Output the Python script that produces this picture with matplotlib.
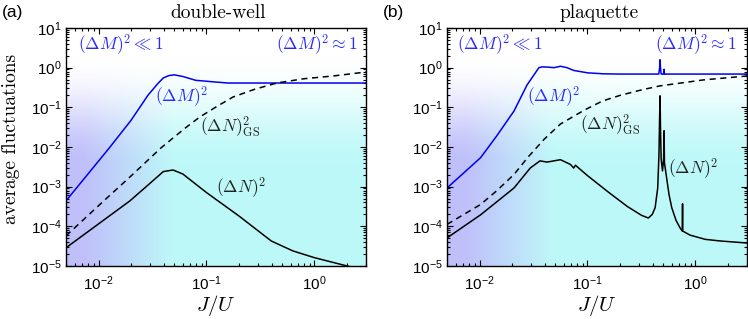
import numpy as np
import matplotlib
matplotlib.use("Agg")
import matplotlib.pyplot as plt
from matplotlib.ticker import LogLocator

plt.rcParams['font.family'] = ['Liberation Sans', 'DejaVu Sans']
plt.rcParams['mathtext.fontset'] = 'cm'

# ---------------- data ----------------
# (a) double-well
dw_M_J = [0.005, 0.01, 0.0126, 0.02, 0.0288, 0.0355, 0.0398, 0.0447, 0.0501, 0.0603, 0.0794, 0.115, 0.158, 1.0, 3.0]
dw_M_y = [4.4e-4, 4.4e-3, 9.5e-3, 0.047, 0.204, 0.40, 0.55, 0.63, 0.66, 0.60, 0.48, 0.44, 0.41, 0.41, 0.41]

dw_NGS_J = [0.005, 0.01, 0.02, 0.038, 0.063, 0.087, 0.126, 0.176, 0.282, 0.451, 0.794, 1.486, 3.0]
dw_NGS_y = [5.75e-5, 3.31e-4, 1.86e-3, 9.55e-3, 0.0295, 0.0575, 0.107, 0.182, 0.288, 0.412, 0.525, 0.617, 0.776]

dw_N_J = [0.005, 0.01, 0.0195, 0.0282, 0.0398, 0.049, 0.0603, 0.1, 0.2, 0.398, 0.631, 1.0, 1.82, 3.0]
dw_N_y = [2.88e-5, 1.15e-4, 4.37e-4, 1.05e-3, 2.4e-3, 2.63e-3, 2.09e-3, 7.1e-4, 1.82e-4, 4.27e-5, 2.4e-5, 1.62e-5, 1.07e-5, 7.6e-6]

# (b) plaquette
pl_M_J = [0.00501, 0.01023, 0.01445, 0.0209, 0.0275, 0.0316, 0.0355, 0.038, 0.0423, 0.049, 0.0562, 0.0646,
          0.0746, 0.1, 0.141, 0.2, 0.457, 0.466, 0.470, 0.474, 0.481, 0.507, 0.512, 0.516, 3.0]
pl_M_y = [9.3e-4, 5.37e-3, 0.0191, 0.0813, 0.363, 0.631, 1.0, 1.047, 1.035, 1.0, 1.084, 1.0,
          0.851, 0.741, 0.70, 0.69, 0.69, 1.0, 1.58, 1.0, 0.69, 0.69, 0.91, 0.69, 0.69]

pl_NGS_J = [0.005, 0.01023, 0.01445, 0.0209, 0.0282, 0.0398, 0.0562, 0.0933, 0.138, 0.2, 0.316, 0.468, 1.175, 3.0]
pl_NGS_y = [1.12e-4, 3.55e-4, 7.9e-4, 2.04e-3, 5.6e-3, 0.0158, 0.038, 0.085, 0.145, 0.2, 0.275, 0.347, 0.49, 0.617]

pl_N_J = [0.005, 0.01023, 0.0209, 0.0295, 0.0363, 0.0423, 0.0562, 0.0695, 0.0746, 0.0773, 0.1, 0.158, 0.234,
          0.316, 0.366, 0.398, 0.423, 0.447, 0.459, 0.466, 0.470, 0.474, 0.481, 0.495, 0.507, 0.512, 0.516,
          0.542, 0.569, 0.603, 0.661, 0.724, 0.755, 0.759, 0.762, 0.891, 1.23, 1.70, 3.0]
pl_N_y = [5.1e-5, 1.95e-4, 9.3e-4, 2.95e-3, 4.47e-3, 4.17e-3, 4.79e-3, 3.63e-3, 2.95e-3, 3.47e-3, 1.9e-3, 7.1e-4, 3.16e-4,
          1.9e-4, 1.62e-4, 2.0e-4, 2.95e-4, 9.3e-4, 6.5e-3, 0.066, 0.195, 0.0316, 5.0e-3, 2.5e-3, 5.0e-3, 0.0257, 4.0e-3,
          1.58e-3, 6.3e-4, 2.95e-4, 1.41e-4, 8.9e-5, 7.6e-5, 3.7e-4, 7.6e-5, 6.0e-5, 4.7e-5, 4.27e-5, 3.8e-5]

panel_titles = ["double-well", "plaquette"]
panel_tags = ["(a)", "(b)"]
xlim = (0.005, 3.0)
ylim = (1e-5, 10.0)

BLUE = '#0000f0'
TBLUE = '#2a2aff'

W, H = 748, 319
fig = plt.figure(figsize=(W / 100, H / 100), dpi=100)

ax_lefts = [66 / W, 447 / W]
ax_w = 300 / W
ax_b = 1 - 266 / H
ax_h = 238 / H


def background(rect):
    bg = fig.add_axes(rect, zorder=0)
    nx, ny = 300, 240
    fx = np.linspace(0, 1, nx)[None, :]
    fy = np.linspace(0, 1, ny)[:, None]

    def smooth(t):
        t = np.clip(t, 0, 1)
        return t * t * (3 - 2 * t)

    t = np.clip((fx - 0.06) / (0.36 - 0.06), 0, 1)
    purple = np.array([0.75, 0.75, 0.98])
    cyan = np.array([0.745, 0.975, 0.975])
    base = purple[None, None, :] * (1 - t[..., None]) + cyan[None, None, :] * t[..., None]
    a = smooth((0.88 - fy) / (0.88 - 0.42))[..., None]
    img = (1 - a) + base * a
    img = np.broadcast_to(img, (ny, nx, 3))
    bg.imshow(img, origin='lower', extent=(0, 1, 0, 1), aspect='auto', interpolation='bilinear')
    bg.set_axis_off()


series = [
    (dw_M_J, dw_M_y, dw_NGS_J, dw_NGS_y, dw_N_J, dw_N_y),
    (pl_M_J, pl_M_y, pl_NGS_J, pl_NGS_y, pl_N_J, pl_N_y),
]

label_pos = [
    {'M': (0.0334, 0.182), 'NGS': (0.087, 0.032), 'N': (0.123, 9.3e-4)},
    {'M': (0.0275, 0.182), 'NGS': (0.085, 0.036), 'N': (0.557, 2.95e-3)},
]

for i in range(2):
    rect = [ax_lefts[i], ax_b, ax_w, ax_h]
    background(rect)
    ax = fig.add_axes(rect, zorder=1)
    ax.set_facecolor('none')
    mJ, my, gJ, gy, nJ, ny_ = series[i]
    ax.plot(mJ, my, color=BLUE, lw=1.1)
    ax.plot(gJ, gy, color='black', lw=1.1, ls=(0, (4, 3)))
    ax.plot(nJ, ny_, color='black', lw=1.1)
    ax.set_xscale('log')
    ax.set_yscale('log')
    ax.set_xlim(*xlim)
    ax.set_ylim(*ylim)
    ax.xaxis.set_major_locator(LogLocator(base=10, numticks=10))
    ax.yaxis.set_major_locator(LogLocator(base=10, numticks=10))
    ax.xaxis.set_minor_locator(LogLocator(base=10, subs=np.arange(2, 10), numticks=20))
    ax.yaxis.set_minor_locator(LogLocator(base=10, subs=np.arange(2, 10), numticks=20))
    ax.tick_params(which='both', direction='in', top=True, right=True, labelsize=11, width=0.8)
    ax.tick_params(which='major', length=4)
    ax.tick_params(axis='y', which='major', pad=3)
    ax.tick_params(axis='x', which='major', pad=6)
    ax.tick_params(which='minor', length=2)
    for s in ax.spines.values():
        s.set_linewidth(1.0)
    ax.set_xlabel(r'$J/U$', fontsize=15, labelpad=0)

    lp = label_pos[i]
    ax.text(0.04 if i == 0 else 0.033, 0.929, r'$(\Delta M)^2 \ll 1$', transform=ax.transAxes,
            color=TBLUE, fontsize=12.5, ha='left', va='center')
    ax.text(0.973 if i == 0 else 0.967, 0.929, r'$(\Delta M)^2 \approx 1$', transform=ax.transAxes,
            color=TBLUE, fontsize=12.5, ha='right', va='center')
    ax.text(*lp['M'], r'$(\Delta M)^2$', color=TBLUE, fontsize=12.5, ha='left', va='center')
    ax.text(*lp['NGS'], r'$(\Delta N)^2_{\rm GS}$', color='#222222', fontsize=12.5, ha='left', va='center')
    ax.text(*lp['N'], r'$(\Delta N)^2$', color='#222222', fontsize=12.5, ha='left', va='center')

    cx = ax_lefts[i] + ax_w / 2 + 2 / W
    fig.text(cx, 1 - 17.5 / H, panel_titles[i], family='cmr10', fontsize=14, ha='center', va='baseline')

fig.text(2 / W, 1 - 12 / H, panel_tags[0], fontsize=12.5, ha='left', va='center')
fig.text(383 / W, 1 - 12 / H, panel_tags[1], fontsize=12.5, ha='left', va='center')
fig.text(11 / W, 1 - 139 / H, 'average fluctuations', family='cmr10', fontsize=14,
         rotation=90, ha='center', va='center')

fig.savefig('out.png', dpi=100)
